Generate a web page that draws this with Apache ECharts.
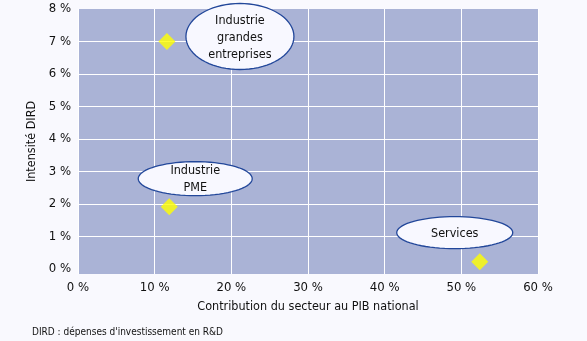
<!DOCTYPE html>
<html>
<head>
<meta charset="utf-8">
<script src="https://cdn.jsdelivr.net/npm/echarts@6/dist/echarts.min.js"></script>
<style>
html,body{margin:0;padding:0;background:#f9f9fe;}
#chart{width:587px;height:341px;}
</style>
</head>
<body>
<div id="chart"></div>
<script>
// ---- data ----
const sectors = ['Industrie\ngrandes\nentreprises', 'Industrie\nPME', 'Services'];
const pibShare = [11.6, 11.9, 52.4];      // Contribution du secteur au PIB national (%)
const dirdIntensity = [7.0, 1.92, 0.23];  // Intensité DIRD (%)
const yTickValues = [0, 1, 2, 3, 4, 5, 6, 7, 8];
const yGridValues = [1, 2, 3, 4, 5, 6, 7];

// ---- bubble layout (pixel offsets from the point, radii) ----
const bubbleStyle = [
  { dx: 73, dy: -5, rx: 54, ry: 33 },
  { dx: 26, dy: -28, rx: 57, ry: 17 },
  { dx: -25, dy: -29, rx: 58, ry: 16 }
];

const FONT = "'Liberation Sans Narrow','DejaVu Sans Condensed',sans-serif";
const chart = echarts.init(document.getElementById('chart'));

const pts = sectors.map((s, i) => [pibShare[i], dirdIntensity[i], s]);

chart.setOption({
  backgroundColor: '#f9f9fe',
  animation: false,
  title: {
    text: "DIRD : dépenses d'investissement en R&D",
    left: 27, top: 322,
    textStyle: { fontFamily: FONT, fontSize: 10, fontWeight: 'normal', color: '#111' }
  },
  grid: {
    left: 78, right: 49, top: 9, bottom: 67,
    show: true, backgroundColor: '#aab3d6', borderWidth: 0
  },
  xAxis: {
    type: 'value', min: 0, max: 60, interval: 10,
    name: 'Contribution du secteur au PIB national',
    nameLocation: 'middle', nameGap: 26,
    nameTextStyle: { fontFamily: FONT, fontSize: 12.5, color: '#111' },
    axisLine: { show: false }, axisTick: { show: false },
    axisLabel: { formatter: '{value} %', margin: 7, fontFamily: FONT, fontSize: 13, color: '#111' },
    splitLine: { show: true, lineStyle: { color: '#ffffff', width: 1 } }
  },
  yAxis: {
    type: 'value', min: -0.15, max: 8,
    name: 'Intensité DIRD',
    nameLocation: 'middle', nameGap: 33, nameRotate: 90,
    nameTextStyle: { fontFamily: FONT, fontSize: 12.5, color: '#111' },
    axisLine: { show: false },
    axisTick: { show: false, customValues: yGridValues },
    axisLabel: { customValues: yTickValues, formatter: '{value} %', margin: 7, fontFamily: FONT, fontSize: 13, color: '#111',
      verticalAlign: 'middle', padding: [0, 0, 8, 0] },
    splitLine: { show: true, lineStyle: { color: '#ffffff', width: 1 } }
  },
  series: [
    {
      type: 'custom',
      data: pts,
      z: 3,
      renderItem: function (params, api) {
        const i = params.dataIndex;
        const p = api.coord([api.value(0), api.value(1)]);
        const b = bubbleStyle[i];
        const cx = p[0] + b.dx, cy = p[1] + b.dy;
        const poly = [];
        for (let k = 0; k < 72; k++) {
          const a = k / 72 * Math.PI * 2;
          poly.push([cx + b.rx * Math.cos(a), cy + b.ry * Math.sin(a)]);
        }
        return {
          type: 'group',
          children: [
            { type: 'polygon', shape: { points: poly },
              style: { fill: '#f8f8ff', stroke: '#22479a', lineWidth: 1.3 } },
            { type: 'text', x: cx, y: cy + 1,
              style: { text: sectors[i], align: 'center', verticalAlign: 'middle',
                fontFamily: FONT, fontSize: 12.5, lineHeight: 17, fill: '#111' } }
          ]
        };
      }
    },
    {
      type: 'scatter',
      data: pts,
      z: 4,
      symbol: 'diamond',
      symbolSize: 17,
      itemStyle: { color: '#ffff00' }
    }
  ]
});
</script>
</body>
</html>
